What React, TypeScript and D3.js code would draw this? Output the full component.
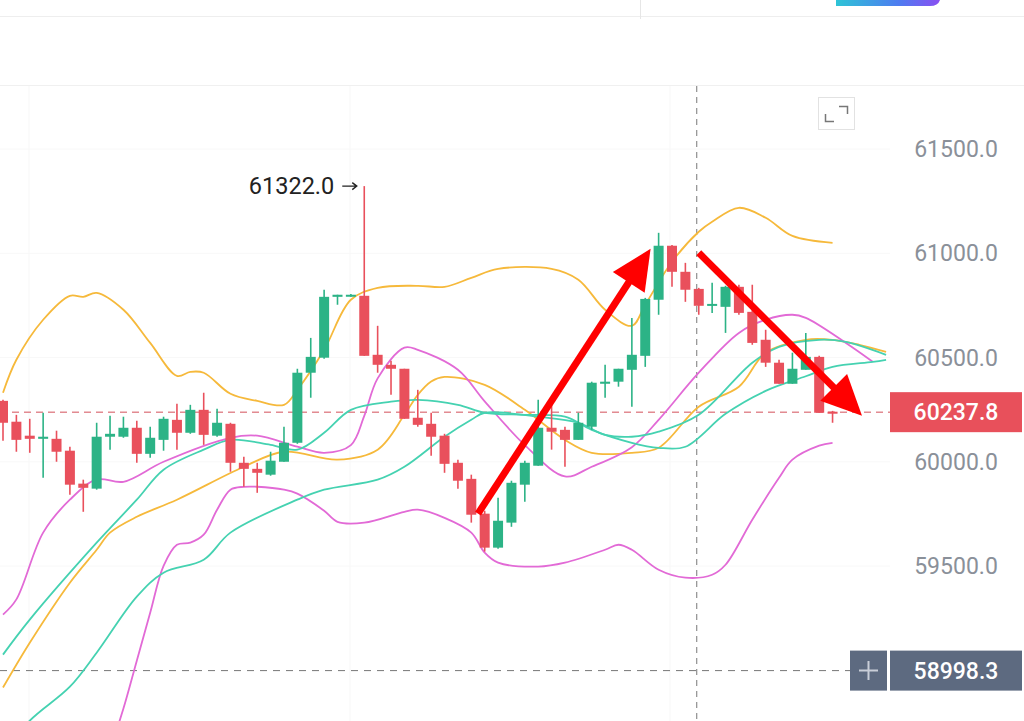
import * as d3 from "d3";

// candles, index 0..62
const opens = [60292, 60192, 60125, 60110, 60110, 60053, 59895, 59871, 60120, 60120, 60163, 60038, 60105, 60201, 60139, 60249, 60125, 60182, 59995, 59966, 59938, 60000, 60091, 60427, 60499, 60791, 60796, 60796, 60513, 60465, 60446, 60211, 60182, 60125, 59995, 59918, 59751, 59588, 59708, 59890, 59981, 60163, 60153, 60105, 60168, 60374, 60384, 60441, 60508, 60777, 61036, 60911, 60829, 60748, 60743, 60839, 60719, 60585, 60475, 60374, 60441, 60503, 60240];
const closes = [60187, 60105, 60110, 60120, 60048, 59890, 59875, 60120, 60134, 60163, 60038, 60115, 60206, 60139, 60249, 60129, 60187, 59995, 59966, 59947, 60005, 60091, 60427, 60503, 60791, 60801, 60801, 60508, 60465, 60446, 60206, 60177, 60120, 59990, 59909, 59746, 59588, 59717, 59899, 59995, 60163, 60144, 60105, 60187, 60379, 60384, 60446, 60513, 60781, 61036, 60911, 60825, 60748, 60757, 60839, 60714, 60570, 60475, 60374, 60446, 60503, 60235, 60237.8];
const highs = [60297, 60225, 60206, 60235, 60149, 60072, 59914, 60187, 60221, 60216, 60197, 60168, 60216, 60278, 60273, 60331, 60254, 60187, 60024, 59995, 60048, 60168, 60446, 60594, 60825, 60801, 60805, 61322, 60652, 60484, 60446, 60345, 60235, 60134, 60010, 59938, 59765, 59827, 59909, 60005, 60297, 60283, 60168, 60235, 60384, 60465, 60446, 60690, 60786, 61098, 61040, 60954, 60834, 60858, 60844, 60849, 60849, 60633, 60489, 60523, 60618, 60508, 60244];
const lows = [60101, 60048, 60043, 59923, 60000, 59842, 59760, 59866, 60058, 60115, 59995, 60019, 60053, 60058, 60134, 60081, 60120, 59952, 59880, 59851, 59933, 60000, 60086, 60307, 60494, 60753, 60791, 60508, 60427, 60321, 60206, 60168, 60029, 59947, 59871, 59708, 59569, 59583, 59688, 59808, 59981, 60058, 59976, 60105, 60153, 60307, 60360, 60264, 60455, 60705, 60839, 60767, 60705, 60714, 60618, 60705, 60561, 60455, 60374, 60374, 60441, 60235, 60187];

// indicator lines as [candle index, price]
const orangeUpper = [[0, 60331], [1, 60489], [3, 60681], [5, 60796], [6, 60791], [7, 60810], [9, 60729], [11, 60570], [13, 60412], [14, 60431], [15, 60427], [17, 60326], [19, 60292], [21, 60273], [22, 60345], [24, 60537], [26, 60777], [28, 60834], [31, 60844], [33, 60839], [35, 60882], [37, 60925], [41, 60925], [43, 60873], [45, 60729], [47, 60652], [48, 60753], [50, 60959], [52, 61103], [53, 61151], [55, 61218], [57, 61170], [59, 61083], [62, 61050]];
const orangeLower = [[0, 58917], [2, 59132], [5, 59420], [7, 59578], [8, 59660], [10, 59736], [13, 59818], [18, 59976], [21, 60048], [25, 60010], [28, 60058], [30, 60225], [31, 60321], [32, 60385], [33, 60407], [36, 60369], [39, 60249], [42, 60105], [44, 60043], [47, 60043], [49, 60067], [52, 60264], [55, 60360], [57, 60523], [60, 60585], [62, 60585], [64, 60561], [66, 60527]];
const pinkUpper = [[0, 59267], [1, 59340], [3, 59660], [5, 59818], [7, 59915], [9, 59904], [12, 60000], [17, 60115], [19, 60125], [22, 60072], [24, 60043], [26, 60080], [27, 60220], [28, 60400], [30, 60547], [31, 60537], [34, 60441], [36, 60290], [39, 60080], [42, 59930], [44, 59976], [47, 60070], [49, 60201], [52, 60427], [55, 60618], [57, 60681], [59, 60705], [60, 60690], [63, 60570], [65, 60480]];
const pinkLower = [[8, 58619], [9, 58816], [10, 59046], [11, 59276], [12, 59501], [13, 59602], [14, 59612], [15, 59650], [16, 59770], [17, 59866], [18, 59880], [19, 59880], [21, 59866], [22, 59847], [24, 59765], [25, 59712], [27, 59708], [30, 59760], [31, 59770], [33, 59731], [35, 59660], [36, 59564], [37, 59516], [40, 59497], [42, 59516], [45, 59578], [46, 59602], [47, 59578], [49, 59482], [51, 59444], [53, 59458], [54, 59506], [56, 59722], [58, 59923], [59, 60010], [61, 60077], [62, 60091]];
const tealSlow = [[0, 59075], [2, 59243], [7, 59612], [10, 59818], [12, 59962], [15, 60058], [17, 60105], [20, 60081], [22, 60058], [24, 60139], [26, 60249], [29, 60288], [31, 60297], [34, 60273], [36, 60235], [39, 60225], [42, 60216], [44, 60153], [47, 60091], [49, 60067], [51, 60072], [54, 60230], [57, 60340], [60, 60410], [62, 60455], [65, 60479], [66, 60489]];
const tealFast = [[0, 58600], [2, 58758], [5, 58921], [7, 59084], [10, 59353], [12, 59468], [15, 59530], [17, 59660], [22, 59818], [24, 59866], [28, 59914], [30, 59976], [33, 60120], [35, 60201], [36, 60235], [40, 60216], [43, 60187], [45, 60129], [47, 60120], [49, 60144], [52, 60225], [56, 60475], [58, 60551], [61, 60585], [63, 60575], [66, 60513]];

const priceTicks = [61500, 61000, 60500, 60000, 59500];
const lastPrice = 60237.8;
const crosshairPrice = 58998.3;
const crosshairIndex = 52;
const highLabel = "61322.0";
const highIndex = 27;

// hand-drawn arrows: [index, price] start and tip
const arrowUp = [[35.5, 59751], [48.4, 61021]];
const arrowDown = [[52, 61002], [64.2, 60221]];

const GREEN = "#2cb386";
const RED = "#e9505c";
const FONT = "Roboto, 'Noto Sans', sans-serif";

export default function App() {
  const width = 1024;
  const height = 721;
  const plotRight = 890;
  const plotTop = 86;

  const x = d3.scaleLinear().domain([0, 62]).range([3, 3 + 13.38 * 62]);
  const y = d3.scaleLinear().domain([59500, 61500]).range([566, 149]);

  const line = d3
    .line<number[]>()
    .x((d) => x(d[0]))
    .y((d) => y(d[1]))
    .curve(d3.curveCatmullRom.alpha(0.5));

  const bodyW = 10;

  const arrow = (pts: number[][]) => {
    const [x1, y1] = [x(pts[0][0]), y(pts[0][1])];
    const [x2, y2] = [x(pts[1][0]), y(pts[1][1])];
    const len = Math.hypot(x2 - x1, y2 - y1);
    const ux = (x2 - x1) / len;
    const uy = (y2 - y1) / len;
    const headL = 40;
    const headW = 19;
    const bx = x2 - ux * headL;
    const by = y2 - uy * headL;
    const head = [
      [x2, y2],
      [bx - uy * headW, by + ux * headW],
      [bx + uy * headW, by - ux * headW],
    ];
    return (
      <g>
        <line x1={x1} y1={y1} x2={bx + ux * 4} y2={by + uy * 4} stroke="#ff0000" strokeWidth={7} />
        <polygon points={head.map((p) => p.join(",")).join(" ")} fill="#ff0000" />
      </g>
    );
  };

  const lastY = y(lastPrice);
  const crossY = y(crosshairPrice);
  const crossX = x(crosshairIndex) - 2;
  const hx = x(highIndex);
  const hy = y(highs[highIndex]);

  return (
    <svg
      width={width}
      height={height}
      style={{ position: "absolute", left: 0, top: 0, background: "#fff" }}
    >
      <defs>
        <clipPath id="plot">
          <rect x={0} y={plotTop} width={plotRight} height={height - plotTop} />
        </clipPath>
        <linearGradient id="btn" x1="0" x2="1">
          <stop offset="0" stopColor="#2ec4d6" />
          <stop offset="0.6" stopColor="#4d7cf0" />
          <stop offset="1" stopColor="#8a4ff2" />
        </linearGradient>
      </defs>

      {/* page header remains */}
      <line x1={0} x2={width} y1={16.5} y2={16.5} stroke="#eeeeee" />
      <line x1={640.5} x2={640.5} y1={0} y2={19} stroke="#e6e6e6" />
      <path d="M836,0 H940 V0 Q938,6 930,6 H836 Z" fill="url(#btn)" />
      <line x1={0} x2={width} y1={85.5} y2={85.5} stroke="#f0f0f0" />

      {/* faint grid */}
      {[29, 350, 670].map((gx) => (
        <line key={gx} x1={gx} x2={gx} y1={plotTop} y2={height} stroke="#f7f7f7" />
      ))}
      {priceTicks.map((t) => (
        <line key={t} x1={0} x2={plotRight} y1={y(t)} y2={y(t)} stroke="#f8f8f8" />
      ))}

      {/* expand icon */}
      <rect x={818.5} y={97.5} width={36} height={32} fill="#fff" stroke="#e2e2e2" />
      <path d="M839,106.5 H847.5 V114" fill="none" stroke="#777" strokeWidth={1.5} />
      <path d="M825.5,114 V121.5 H834" fill="none" stroke="#777" strokeWidth={1.5} />

      <g clipPath="url(#plot)">
        {/* crosshair */}
        <line x1={crossX} x2={crossX} y1={plotTop} y2={height} stroke="#777" strokeDasharray="6 5" strokeWidth={1} />
        <line x1={0} x2={850} y1={crossY} y2={crossY} stroke="#777" strokeDasharray="7 6" strokeWidth={1} />

        {/* last price line */}
        <line x1={0} x2={plotRight} y1={lastY} y2={lastY} stroke="#d4505a" strokeDasharray="7 5" strokeWidth={1} />

        {/* indicators */}
        <path d={line(orangeUpper) ?? ""} fill="none" stroke="#f6b93b" strokeWidth={1.8} />
        <path d={line(orangeLower) ?? ""} fill="none" stroke="#f6b93b" strokeWidth={1.8} />
        <path d={line(pinkUpper) ?? ""} fill="none" stroke="#e26ad6" strokeWidth={1.8} />
        <path d={line(pinkLower) ?? ""} fill="none" stroke="#e26ad6" strokeWidth={1.8} />
        <path d={line(tealSlow) ?? ""} fill="none" stroke="#45d2b1" strokeWidth={1.8} />
        <path d={line(tealFast) ?? ""} fill="none" stroke="#45d2b1" strokeWidth={1.8} />

        {/* candles */}
        {opens.map((o, i) => {
          const c = closes[i];
          const up = c >= o;
          const col = up ? GREEN : RED;
          const top = y(Math.max(o, c));
          const bot = y(Math.min(o, c));
          const cx = x(i);
          return (
            <g key={i}>
              <line x1={cx} x2={cx} y1={y(highs[i])} y2={y(lows[i])} stroke={col} strokeWidth={1.6} />
              <rect x={cx - bodyW / 2} y={top} width={bodyW} height={Math.max(bot - top, 2)} fill={col} />
            </g>
          );
        })}

        {/* drawn arrows */}
        {arrow(arrowUp)}
        {arrow(arrowDown)}
      </g>

      {/* high annotation */}
      <text x={hx - 30} y={hy + 8} textAnchor="end" fontFamily={FONT} fontSize={23.5} fill="#222">
        {highLabel}
      </text>
      <path
        d={`M${hx - 22},${hy} H${hx - 8} M${hx - 12},${hy - 3.5} L${hx - 7.5},${hy} L${hx - 12},${hy + 3.5}`}
        fill="none"
        stroke="#222"
        strokeWidth={1.4}
      />

      {/* price axis */}
      {priceTicks.map((t) => (
        <text key={t} x={956} y={y(t) + 8} textAnchor="middle" fontFamily={FONT} fontSize={23} fill="#8a9099">
          {t.toFixed(1)}
        </text>
      ))}

      {/* last price label */}
      <rect x={890} y={lastY - 20} width={132} height={40} fill="#e8505b" />
      <text x={956} y={lastY + 8} textAnchor="middle" fontFamily={FONT} fontSize={23} fontWeight={500} fill="#fff">
        {lastPrice.toFixed(1)}
      </text>

      {/* crosshair label */}
      <rect x={850} y={crossY - 20} width={37} height={40} fill="#5d6a80" />
      <path d={`M859,${crossY} H878 M868.5,${crossY - 9.5} V${crossY + 9.5}`} stroke="#c9ced8" strokeWidth={2} />
      <rect x={890} y={crossY - 20} width={132} height={40} fill="#5d6a80" />
      <text x={956} y={crossY + 8} textAnchor="middle" fontFamily={FONT} fontSize={23} fontWeight={500} fill="#fff">
        {crosshairPrice.toFixed(1)}
      </text>
    </svg>
  );
}
